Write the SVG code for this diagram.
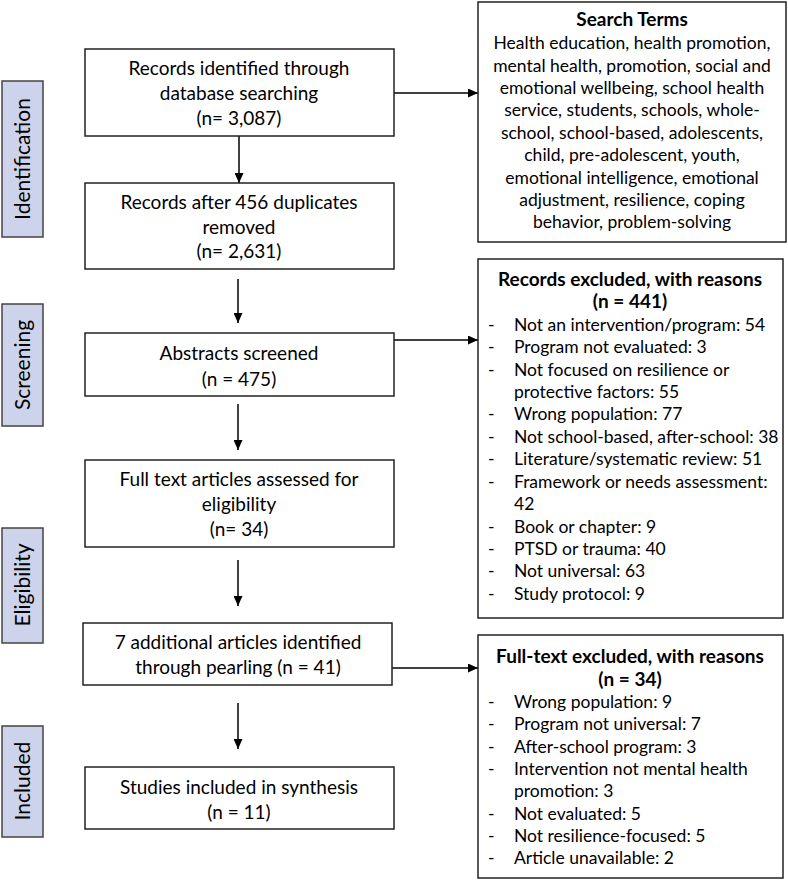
<svg xmlns="http://www.w3.org/2000/svg" width="788" height="880" viewBox="0 0 788 880">
<defs>
<marker id="ah" viewBox="0 0 10 10" refX="10" refY="5" markerWidth="10" markerHeight="9" markerUnits="userSpaceOnUse" orient="auto" preserveAspectRatio="none">
<path d="M0,0 L10,5 L0,10 z" fill="#000"/>
</marker>
<style>
.box{fill:#fff;stroke:#222;stroke-width:1.5}
.side{fill:#cdd3ea;stroke:#444;stroke-width:1.5}
.t{font-family:Lato,"Liberation Sans",sans-serif;font-size:19px;fill:#000;text-anchor:middle}
.r{font-family:Lato,"Liberation Sans",sans-serif;font-size:17.5px;fill:#000}
.c{text-anchor:middle}
.b{font-weight:bold;font-size:19px}
.s{font-family:Lato,"Liberation Sans",sans-serif;font-size:21px;fill:#000;text-anchor:middle}
.con{stroke:#000;stroke-width:1.5;fill:none;marker-end:url(#ah)}
</style>
</defs>
<rect width="788" height="880" fill="#fff"/>
<g id="side-identification"><rect class="side" x="2" y="81" width="41" height="156"/><text class="s" transform="translate(30,159) rotate(-90)">Identification</text></g>
<g id="side-screening"><rect class="side" x="2" y="304" width="41" height="122"/><text class="s" transform="translate(30,365) rotate(-90)">Screening</text></g>
<g id="side-eligibility"><rect class="side" x="2" y="528" width="41" height="115"/><text class="s" transform="translate(30,585) rotate(-90)">Eligibility</text></g>
<g id="side-included"><rect class="side" x="2" y="726" width="41" height="111"/><text class="s" transform="translate(30,781) rotate(-90)">Included</text></g>

<g id="connectors">
<line class="con" x1="239" y1="136" x2="239" y2="183"/>
<line class="con" x1="238" y1="279" x2="238" y2="323"/>
<line class="con" x1="238" y1="404" x2="238" y2="450"/>
<line class="con" x1="238" y1="560" x2="238" y2="606"/>
<line class="con" x1="238" y1="703" x2="238" y2="749"/>
<line class="con" x1="394" y1="93" x2="478" y2="93"/>
<line class="con" x1="394" y1="340" x2="478" y2="340"/>
<line class="con" x1="392" y1="668" x2="478" y2="668"/>
</g>

<g id="n1"><rect class="box" x="85" y="49" width="309" height="87"/>
<text class="t" x="239" y="75">Records identified through</text>
<text class="t" x="239" y="100">database searching</text>
<text class="t" x="239" y="125">(n= 3,087)</text></g>

<g id="n2"><rect class="box" x="85" y="183" width="309" height="86"/>
<text class="t" x="239" y="209">Records after 456 duplicates</text>
<text class="t" x="239" y="234">removed</text>
<text class="t" x="239" y="258">(n= 2,631)</text></g>

<g id="n3"><rect class="box" x="85" y="333" width="309" height="63"/>
<text class="t" x="239" y="360">Abstracts screened</text>
<text class="t" x="239" y="386">(n = 475)</text></g>

<g id="n4"><rect class="box" x="85" y="460" width="309" height="87"/>
<text class="t" x="239" y="486">Full text articles assessed for</text>
<text class="t" x="239" y="511">eligibility</text>
<text class="t" x="239" y="536">(n= 34)</text></g>

<g id="n5"><rect class="box" x="83" y="623" width="309" height="62"/>
<text class="t" x="238" y="649">7 additional articles identified</text>
<text class="t" x="238" y="674">through pearling (n = 41)</text></g>

<g id="n6"><rect class="box" x="85" y="767" width="309" height="62"/>
<text class="t" x="239" y="794">Studies included in synthesis</text>
<text class="t" x="239" y="819">(n = 11)</text></g>

<g id="search-terms"><rect class="box" x="478" y="2" width="308" height="240"/>
<text class="r c b" x="632" y="26">Search Terms</text>
<text class="r c" x="632" y="49">Health education, health promotion,</text>
<text class="r c" x="632" y="72">mental health, promotion, social and</text>
<text class="r c" x="632" y="94">emotional wellbeing, school health</text>
<text class="r c" x="632" y="116">service, students, schools, whole-</text>
<text class="r c" x="632" y="139">school, school-based, adolescents,</text>
<text class="r c" x="632" y="161">child, pre-adolescent, youth,</text>
<text class="r c" x="632" y="184">emotional intelligence, emotional</text>
<text class="r c" x="632" y="206">adjustment, resilience, coping</text>
<text class="r c" x="632" y="228">behavior, problem-solving</text></g>

<g id="records-excluded"><rect class="box" x="478" y="259" width="305" height="359"/>
<text class="r c b" x="630" y="286">Records excluded, with reasons</text>
<text class="r c b" x="630" y="308">(n = 441)</text>
<g class="r">
<text x="488" y="331">-</text><text x="514" y="331">Not an intervention/program: 54</text>
<text x="488" y="353">-</text><text x="514" y="353">Program not evaluated: 3</text>
<text x="488" y="376">-</text><text x="514" y="376">Not focused on resilience or</text>
<text x="514" y="398">protective factors: 55</text>
<text x="488" y="420">-</text><text x="514" y="420">Wrong population: 77</text>
<text x="488" y="443">-</text><text x="514" y="443">Not school-based, after-school: 38</text>
<text x="488" y="465">-</text><text x="514" y="465">Literature/systematic review: 51</text>
<text x="488" y="488">-</text><text x="514" y="488">Framework or needs assessment:</text>
<text x="514" y="510">42</text>
<text x="488" y="533">-</text><text x="514" y="533">Book or chapter: 9</text>
<text x="488" y="555">-</text><text x="514" y="555">PTSD or trauma: 40</text>
<text x="488" y="577">-</text><text x="514" y="577">Not universal: 63</text>
<text x="488" y="600">-</text><text x="514" y="600">Study protocol: 9</text>
</g></g>

<g id="fulltext-excluded"><rect class="box" x="478" y="635" width="305" height="243"/>
<text class="r c b" x="630" y="663">Full-text excluded, with reasons</text>
<text class="r c b" x="630" y="686">(n = 34)</text>
<g class="r">
<text x="488" y="708">-</text><text x="514" y="708">Wrong population: 9</text>
<text x="488" y="730">-</text><text x="514" y="730">Program not universal: 7</text>
<text x="488" y="753">-</text><text x="514" y="753">After-school program: 3</text>
<text x="488" y="775">-</text><text x="514" y="775">Intervention not mental health</text>
<text x="514" y="797">promotion: 3</text>
<text x="488" y="820">-</text><text x="514" y="820">Not evaluated: 5</text>
<text x="488" y="842">-</text><text x="514" y="842">Not resilience-focused: 5</text>
<text x="488" y="864">-</text><text x="514" y="864">Article unavailable: 2</text>
</g></g>
</svg>
